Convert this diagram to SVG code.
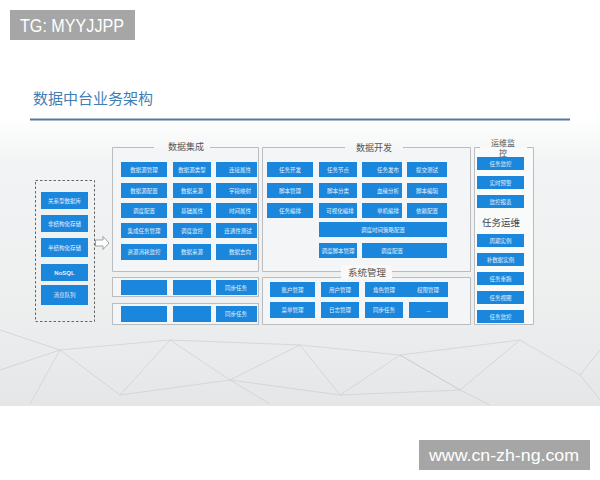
<svg xmlns="http://www.w3.org/2000/svg" width="600" height="480" viewBox="0 0 600 480">
<defs>
<linearGradient id="bg" x1="0" y1="0" x2="0" y2="1">
<stop offset="0" stop-color="#fdfdfd"/>
<stop offset="0.15" stop-color="#f2f3f4"/>
<stop offset="0.6" stop-color="#eef0f0"/>
<stop offset="0.85" stop-color="#e8eaeb"/>
<stop offset="1" stop-color="#e4e6e7"/>
</linearGradient>
<style>
.blk{fill:#1a86dc}
.t{font-family:"Noto Sans CJK SC","Noto Sans",sans-serif;font-size:5.5px;fill:#e9f2fb;text-anchor:middle;dominant-baseline:central}
.frame{fill:#f4f5f6}
.edge{fill:none;stroke:#b9bdc1;stroke-width:1}
.ttl{font-family:"Noto Sans CJK SC",sans-serif;font-size:9px;fill:#555;text-anchor:middle}
.net{stroke:#c8cbce;stroke-width:0.6;fill:none}
</style>
</defs>
<rect width="600" height="480" fill="#ffffff"/>
<rect x="0" y="122" width="600" height="284" fill="url(#bg)"/>
<g class="net">
<path d="M0,370 L60,350 L120,395 L170,340 L230,380 L300,345 L340,395 L400,355 L460,390 L520,340 L580,375 L600,350"/>
<path d="M30,404 L60,350 L0,330 M120,395 L230,380 L270,404 M170,340 L300,345 L400,355 L520,340 M340,395 L460,390 L490,405 M580,375 L600,400 M400,355 L460,390 M60,350 L170,340 M230,380 L340,395"/>
</g>
<g id="tg">
<rect x="10" y="10" width="125" height="30" fill="#a6a6a6"/>
<text x="20" y="32" font-family="Liberation Sans, Arial, sans-serif" font-size="18" fill="#ffffff" textLength="104" lengthAdjust="spacingAndGlyphs">TG: MYYJJPP</text>
</g>
<g id="title">
<text x="33" y="104" font-family="Noto Sans CJK SC, sans-serif" font-size="15" fill="#3f7fb5">数据中台业务架构</text>
<line x1="30" y1="119.5" x2="570" y2="119.5" stroke="#557b9c" stroke-width="2"/>
</g>
<g id="sources">
<rect x="35.5" y="180.5" width="59" height="141" fill="none" stroke="#666" stroke-width="1" stroke-dasharray="2.5,2"/>
<rect class="blk" x="41" y="192" width="47" height="17"/><text class="t" x="64.5" y="200.5">关系型数据库</text>
<rect class="blk" x="41" y="215" width="47" height="17"/><text class="t" x="64.5" y="223.5">非结构化存储</text>
<rect class="blk" x="41" y="238" width="47" height="19"/><text class="t" x="64.5" y="247.5">半结构化存储</text>
<rect class="blk" x="41" y="264" width="47" height="17"/><text class="t" x="64.5" y="272.5" style="font-family:'Liberation Sans',sans-serif;font-weight:bold;font-size:6px">NoSQL</text>
<rect class="blk" x="41" y="285" width="47" height="20"/><text class="t" x="64.5" y="295">消息队列</text>
</g>
<g id="connectors">
<path d="M95.5,240 H103 V236.5 L109,243 L103,249.5 V246 H95.5 Z" fill="#ffffff" stroke="#8a8a8a" stroke-width="0.8"/>
</g>
<g id="integration">
<rect class="frame" x="112.5" y="147.5" width="146" height="124"/>
<path class="edge" d="M154,147.5 H112.5 V271.5 H258.5 V147.5 H210"/>
<text class="ttl" x="186" y="150">数据集成</text>
<rect class="blk" x="121" y="162" width="46" height="15"/><text class="t" x="144" y="169.5">数据源管理</text>
<rect class="blk" x="173" y="162" width="38" height="15"/><text class="t" x="192" y="169.5">数据源类型</text>
<rect class="blk" x="216" y="162" width="41" height="15"/><text class="t" x="240" y="169.5">连接属性</text>
<rect class="blk" x="121" y="183" width="46" height="15"/><text class="t" x="144" y="190.5">数据源配置</text>
<rect class="blk" x="173" y="183" width="38" height="15"/><text class="t" x="192" y="190.5">数据来源</text>
<rect class="blk" x="216" y="183" width="41" height="15"/><text class="t" x="240" y="190.5">字段映射</text>
<rect class="blk" x="121" y="203" width="46" height="15"/><text class="t" x="144" y="210.5">调度配置</text>
<rect class="blk" x="173" y="203" width="38" height="15"/><text class="t" x="192" y="210.5">基础属性</text>
<rect class="blk" x="216" y="203" width="41" height="15"/><text class="t" x="240" y="210.5">时间属性</text>
<rect class="blk" x="121" y="223" width="46" height="15"/><text class="t" x="144" y="230.5">集成任务管理</text>
<rect class="blk" x="173" y="223" width="38" height="15"/><text class="t" x="192" y="230.5">调度监控</text>
<rect class="blk" x="216" y="223" width="41" height="15"/><text class="t" x="238" y="230.5">连通性测试</text>
<rect class="blk" x="121" y="244" width="46" height="16"/><text class="t" x="144" y="252">资源消耗监控</text>
<rect class="blk" x="173" y="244" width="38" height="16"/><text class="t" x="192" y="252">数据来源</text>
<rect class="blk" x="216" y="244" width="41" height="16"/><text class="t" x="240" y="252">数据去向</text>
</g>
<g id="sync1">
<rect class="frame" x="112.5" y="277.5" width="146" height="19"/>
<rect class="edge" x="112.5" y="277.5" width="146" height="19"/>
<rect class="blk" x="121" y="280" width="46" height="15"/>
<rect class="blk" x="173" y="280" width="38" height="15"/>
<rect class="blk" x="216" y="280" width="41" height="15"/><text class="t" x="236" y="287.5">同步任务</text>
</g>
<g id="sync2">
<rect class="frame" x="112.5" y="303.5" width="146" height="21"/>
<rect class="edge" x="112.5" y="303.5" width="146" height="21"/>
<rect class="blk" x="121" y="306" width="46" height="16"/>
<rect class="blk" x="173" y="306" width="38" height="16"/>
<rect class="blk" x="216" y="306" width="41" height="16"/><text class="t" x="236" y="314">同步任务</text>
</g>
<g id="development">
<rect class="frame" x="262.5" y="147.5" width="208" height="124"/>
<path class="edge" d="M345,147.5 H262.5 V271.5 H341 M392,271.5 H470.5 V147.5 H403"/>
<text class="ttl" x="374" y="150.5">数据开发</text>
<rect class="blk" x="267" y="162" width="46" height="15"/><text class="t" x="290" y="169.5">任务开发</text>
<rect class="blk" x="319" y="162" width="38" height="15"/><text class="t" x="338" y="169.5">任务节点</text>
<rect class="blk" x="362" y="162" width="40" height="15"/><text class="t" x="388" y="169.5">任务发布</text>
<rect class="blk" x="407" y="162" width="40" height="15"/><text class="t" x="427" y="169.5">提交测试</text>
<rect class="blk" x="267" y="183" width="46" height="15"/><text class="t" x="290" y="190.5">脚本管理</text>
<rect class="blk" x="319" y="183" width="38" height="15"/><text class="t" x="338" y="190.5">脚本分类</text>
<rect class="blk" x="362" y="183" width="40" height="15"/><text class="t" x="388" y="190.5">血缘分析</text>
<rect class="blk" x="407" y="183" width="40" height="15"/><text class="t" x="427" y="190.5">脚本编辑</text>
<rect class="blk" x="267" y="203" width="46" height="15"/><text class="t" x="290" y="210.5">任务编排</text>
<rect class="blk" x="319" y="203" width="38" height="15"/><text class="t" x="340" y="210.5">可视化编排</text>
<rect class="blk" x="362" y="203" width="40" height="15"/><text class="t" x="388" y="210.5">单机编排</text>
<rect class="blk" x="407" y="203" width="40" height="15"/><text class="t" x="427" y="210.5">依赖配置</text>
<rect class="blk" x="319" y="222" width="128" height="15"/><text class="t" x="383" y="229.5">调度时间策略配置</text>
<rect class="blk" x="319" y="243" width="38" height="15"/><text class="t" x="338" y="250.5">调度脚本管理</text>
<rect class="blk" x="362" y="243" width="85" height="15"/><text class="t" x="392" y="250.5">调度配置</text>
</g>
<g id="system">
<rect class="frame" x="262.5" y="277.5" width="208" height="47"/>
<path class="edge" d="M341,277.5 H262.5 V324.5 H470.5 V277.5 H392"/>
<rect x="341" y="265" width="51" height="14" fill="#f9f9f9"/>
<text class="ttl" x="367" y="275.5" style="font-size:9.5px">系统管理</text>
<rect class="blk" x="270" y="282" width="45" height="15"/><text class="t" x="292.5" y="289.5">账户管理</text>
<rect class="blk" x="321" y="282" width="38" height="15"/><text class="t" x="340" y="289.5">用户管理</text>
<rect class="blk" x="365" y="282" width="42" height="15"/><text class="t" x="384" y="289.5">角色管理</text>
<rect class="blk" x="407" y="282" width="41" height="15"/><text class="t" x="428" y="289.5">权限管理</text>
<rect class="blk" x="270" y="302" width="45" height="16"/><text class="t" x="292.5" y="310">菜单管理</text>
<rect class="blk" x="321" y="302" width="38" height="16"/><text class="t" x="340" y="310">日志管理</text>
<rect class="blk" x="365" y="302" width="38" height="16"/><text class="t" x="384" y="310">同步任务</text>
<rect class="blk" x="409" y="302" width="39" height="16"/><text class="t" x="428.5" y="310">...</text>
</g>
<g id="operations">
<rect x="474.5" y="147.5" width="59" height="177" fill="#f9fafa"/>
<path class="edge" d="M480,147.5 H474.5 V324.5 H533.5 V147.5 H527"/>
<text class="ttl" x="503" y="146" style="font-size:8px">运维监</text>
<text class="ttl" x="503" y="156" style="font-size:8px">控</text>
<rect class="blk" x="477" y="157" width="47" height="13"/><text class="t" x="500.5" y="163.5">任务监控</text>
<rect class="blk" x="477" y="176" width="47" height="13"/><text class="t" x="500.5" y="182.5">实时预警</text>
<rect class="blk" x="477" y="195" width="47" height="13"/><text class="t" x="500.5" y="201.5">监控报表</text>
<text x="501" y="225.5" font-family="Noto Sans CJK SC, sans-serif" font-size="9.5" fill="#444" text-anchor="middle">任务运维</text>
<rect class="blk" x="477" y="234" width="47" height="13"/><text class="t" x="500.5" y="240.5">周期实例</text>
<rect class="blk" x="477" y="253" width="47" height="13"/><text class="t" x="500.5" y="259.5">补数据实例</text>
<rect class="blk" x="477" y="272" width="47" height="13"/><text class="t" x="500.5" y="278.5">任务重跑</text>
<rect class="blk" x="477" y="291" width="47" height="13"/><text class="t" x="500.5" y="297.5">任务视图</text>
<rect class="blk" x="477" y="310" width="47" height="13"/><text class="t" x="500.5" y="316.5">任务监控</text>
</g>
<g id="watermark">
<rect x="419" y="440" width="171" height="30" fill="#a6a6a6"/>
<text x="429" y="461" font-family="Liberation Sans, Arial, sans-serif" font-size="17" fill="#ffffff" textLength="150" lengthAdjust="spacingAndGlyphs">www.cn-zh-ng.com</text>
</g>
</svg>
